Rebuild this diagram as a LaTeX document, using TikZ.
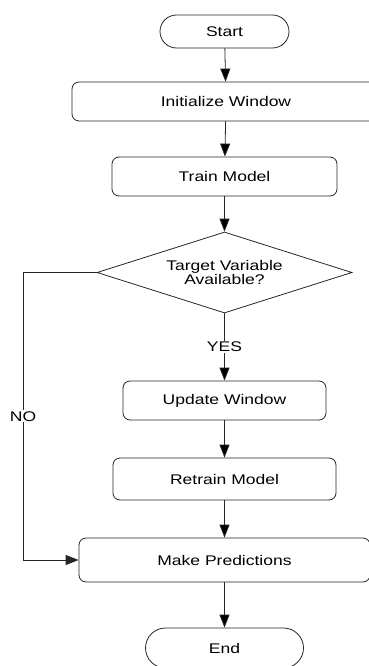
\documentclass[tikz,border=0pt]{standalone}
\usepackage{fontspec}
\setmainfont{Liberation Sans}[FakeStretch=1.25]
\usetikzlibrary{arrows.meta,shapes.geometric,shapes.misc}

\begin{document}
\begin{tikzpicture}[x=1pt, y=-1pt,
  >={Triangle[width=10pt,length=13pt]},
  font=\fontsize{14}{13.5}\selectfont,
  term/.style={shape=rounded rectangle, draw=black!85, line width=0.8pt, inner sep=0pt},
  proc/.style={shape=rectangle, draw=black!85, line width=0.8pt, rounded corners=7pt, inner sep=0pt},
  dec/.style={shape=diamond, draw=black!85, line width=0.8pt, inner sep=0pt, aspect=3.15, align=center},
  flow/.style={->, line width=0.8pt, draw=black!85},
  lbl/.style={fill=white, inner sep=1pt}]
\useasboundingbox (0,0) rectangle (368,666);
% terminals and steps
\node[term, minimum width=129pt, minimum height=33pt] (start) at (224.5, 31.5) {Start};
\node[proc, minimum width=308pt, minimum height=39pt] (init) at (226, 101.5) {Initialize Window};
\node[proc, minimum width=225pt, minimum height=39pt] (train) at (224.5, 176.5) {Train Model};
\node[dec, minimum width=255pt, minimum height=81pt] (avail) at (224.5, 272.5) {Target Variable\\Available?};
\node[proc, minimum width=203pt, minimum height=39pt] (update) at (224.5, 400.5) {Update Window};
\node[proc, minimum width=223pt, minimum height=42pt] (retrain) at (224.5, 479) {Retrain Model};
\node[proc, minimum width=291pt, minimum height=44pt] (predict) at (224.5, 560) {Make Predictions};
\node[term, minimum width=158pt, minimum height=40pt] (end) at (224.5, 648) {End};
\coordinate (bend) at (23, 272.5);
% connectors
\path [flow] (start) edge (init);
\path [flow] (init) edge (train);
\path [flow] (train) edge (avail);
\path [flow] (avail) edge node[lbl] {YES} (update);
\path [flow] (update) edge (retrain);
\path [flow] (retrain) edge (predict);
\path [flow] (predict) edge (end);
\draw [flow] (avail.west) -- (bend) |- node[lbl, pos=0.25] {NO} (predict.west);
\end{tikzpicture}
\end{document}
